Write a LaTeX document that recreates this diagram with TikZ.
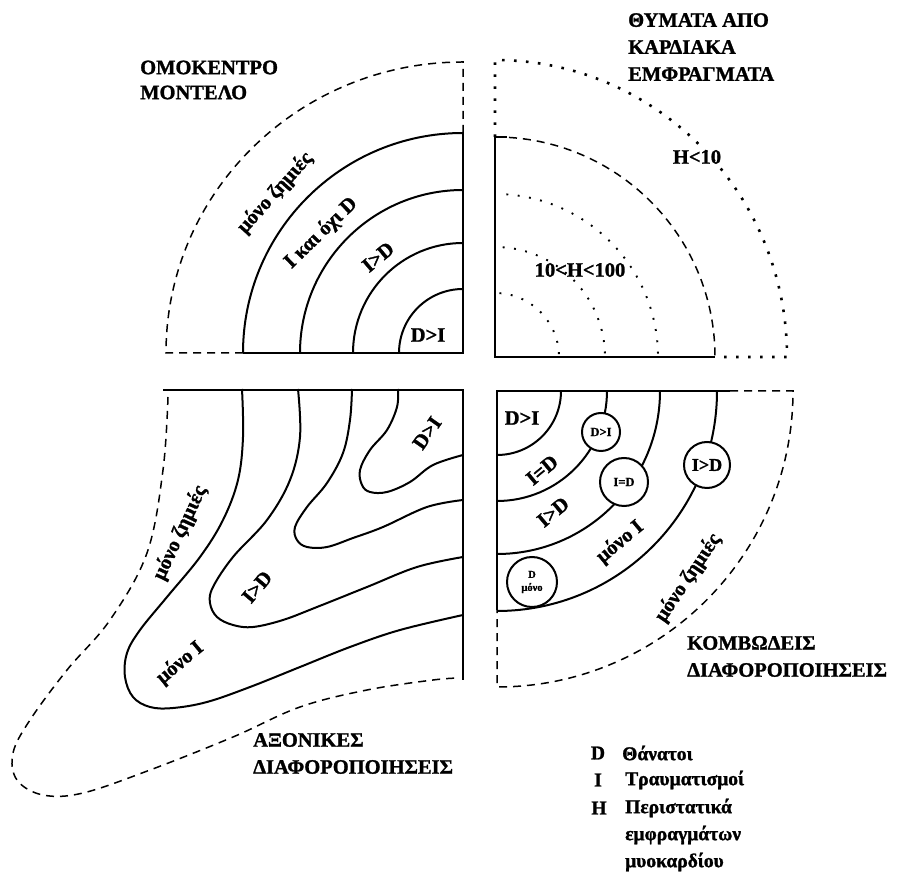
\documentclass[tikz,border=0pt]{standalone}
\usepackage{fontspec}
\setmainfont{Liberation Serif}
\newfontfamily\heavy{Liberation Serif Bold}[FakeBold=1.3]
\begin{document}
\begin{tikzpicture}[x=1pt,y=1pt,
  border/.style={line width=2.6pt},
  contour/.style={line width=2pt},
  dsh/.style={line width=1.5pt, dash pattern=on 8pt off 6pt},
  dts/.style={line width=2.6pt, dash pattern=on 2.6pt off 9.4pt},
  dtsin/.style={line width=1.9pt, dash pattern=on 1.9pt off 9.5pt},
  lbl/.style={font=\heavy\fontsize{20.5}{22}\selectfont, inner sep=0pt},
  ttl/.style={font=\heavy\fontsize{20.5}{27}\selectfont, align=left, inner sep=0pt, anchor=west},
  leg/.style={font=\heavy\fontsize{19.5}{27}\selectfont, inner sep=0pt},
  circ/.style={circle, draw, line width=2pt, fill=white, inner sep=0pt},
  ]
\useasboundingbox (0,0) rectangle (901,875);

% ---------- top-left: concentric model ----------
\coordinate (tl) at (463,522);
\foreach \r in {220,163,110,64}
  \draw[contour] (tl) ++(0,\r) arc[start angle=90,end angle=180,radius=\r];
\draw[border] (463,742) -- (tl) -- (243,522);
\draw[dsh] (463,742) -- (463,813) arc[start angle=90,end angle=180,x radius=297,y radius=291] -- (243,522);
\node[ttl] (ttlTL) at (140,795) {ΟΜΟΚΕΝΤΡΟ\\[-2pt]ΜΟΝΤΕΛΟ};
\node[lbl, rotate=48] (tlA) at (275,682) {μόνο ζημιές};
\node[lbl, rotate=44] (tlB) at (321,642) {I και όχι D};
\node[lbl, rotate=40] (tlC) at (378,618) {I>D};
\node[lbl] (tlD) at (428,540) {D>I};

% ---------- top-right: heart attacks ----------
\coordinate (tr) at (495,518);
\draw[border] (507,738) -- (495,738) -- (tr) -- (715,518);
\draw[dsh] (495,738) arc[start angle=90,end angle=0,radius=220];
\draw[dts] (495,738) -- (495,815) arc[start angle=90,end angle=0,x radius=292,y radius=297] -- (715,518);
\foreach \r in {163,110,64}
  \draw[dtsin] (tr) ++(86:\r) arc[start angle=86,end angle=0,radius=\r];
\node[ttl] (ttlTR) at (628,828) {ΘΥΜΑΤΑ ΑΠΟ\\ΚΑΡΔΙΑΚΑ\\ΕΜΦΡΑΓΜΑΤΑ};
\node[lbl] (trA) at (697,718) {H<10};
\node[lbl] (trB) at (580,605) {10<H<100};

% ---------- bottom-left: axial ----------
\coordinate (bl) at (463,485);
\draw[border] (163,485) -- (bl) -- (463,195);
\draw[contour] plot[smooth, tension=0.6] coordinates {(242,486) (243,438) (238,395) (223,355) (200,318) (167,278) (140,245) (127,222) (125,198) (133,178) (150,168) (173,167) (207,173) (250,188) (300,208) (350,228) (400,245) (463,260)};
\draw[contour] plot[smooth, tension=0.6] coordinates {(298,486) (300,438) (290,395) (267,355) (233,318) (213,288) (210,272) (217,258) (233,250) (253,248) (283,255) (317,268) (367,288) (417,308) (463,318)};
\draw[contour] plot[smooth, tension=0.6] coordinates {(352,486) (350,455) (343,422) (327,392) (307,368) (295,348) (297,335) (307,328) (327,328) (353,337) (383,348) (427,368) (463,375)};
\draw[contour] plot[smooth, tension=0.6] coordinates {(398,486) (397,468) (387,445) (370,425) (360,405) (362,390) (370,383) (387,383) (410,393) (433,410) (463,420)};
\draw[dsh] plot[smooth, tension=0.6] coordinates {(168,478) (163,405) (147,322) (110,255) (67,205) (30,155) (13,122) (17,95) (43,80) (83,82) (150,105) (233,138) (300,168) (367,185) (433,195) (460,197)};
\node[ttl] (ttlBL) at (253,121.5) {ΑΞΟΝΙΚΕΣ\\ΔΙΑΦΟΡΟΠΟΙΗΣΕΙΣ};
\node[lbl, rotate=55] (blA) at (427,442) {D>I};
\node[lbl, rotate=65] (blB) at (180,342) {μόνο ζημιές};
\node[lbl, rotate=50] (blC) at (257,288) {I>D};
\node[lbl, rotate=40] (blD) at (180,212) {μόνο I};

% ---------- bottom-right: nodal ----------
\coordinate (br) at (497,484);
\foreach \r in {64,110,163,220}
  \draw[contour] (br) ++(\r,0) arc[start angle=0,end angle=-90,radius=\r];
\draw[border] (730,484) -- (br) -- (497,265);
\draw[dsh] (730,484) -- (793,484) arc[start angle=0,end angle=-90,radius=296] -- (497,265);
\node[circ, minimum size=38pt, font=\heavy\fontsize{12.5}{13}\selectfont] (cA) at (601,443) {D>I};
\node[circ, minimum size=48pt, font=\heavy\fontsize{12.5}{13}\selectfont] (cB) at (624,393) {I=D};
\node[circ, minimum size=46pt, font=\heavy\fontsize{18}{18}\selectfont] (cC) at (707,410) {I>D};
\node[circ, minimum size=50pt, font=\heavy\fontsize{10.5}{13}\selectfont, align=center] (cD) at (532,293) {D\\μόνο};
\node[lbl] (brA) at (522,457) {D>I};
\node[lbl, rotate=40] (brB) at (542,405) {I=D};
\node[lbl, rotate=40] (brC) at (553,363) {I>D};
\node[lbl, rotate=40] (brD) at (620,333) {μόνο I};
\node[lbl, rotate=56] (brE) at (688,297) {μόνο ζημιές};
\node[ttl] (ttlBR) at (687,218.5) {ΚΟΜΒΩΔΕΙΣ\\ΔΙΑΦΟΡΟΠΟΙΗΣΕΙΣ};

% ---------- legend ----------
\node[leg] (kD) at (598,122) {D};
\node[leg] (kI) at (598,95) {I};
\node[leg] (kH) at (599,67) {H};
\node[leg, anchor=west] (vD) at (622,122) {Θάνατοι};
\node[leg, anchor=west] (vI) at (625,95) {Τραυματισμοί};
\node[leg, anchor=west] (vH1) at (625,67) {Περιστατικά};
\node[leg, anchor=west] (vH2) at (625,40) {εμφραγμάτων};
\node[leg, anchor=west] (vH3) at (625,13) {μυοκαρδίου};
\end{tikzpicture}
\end{document}
